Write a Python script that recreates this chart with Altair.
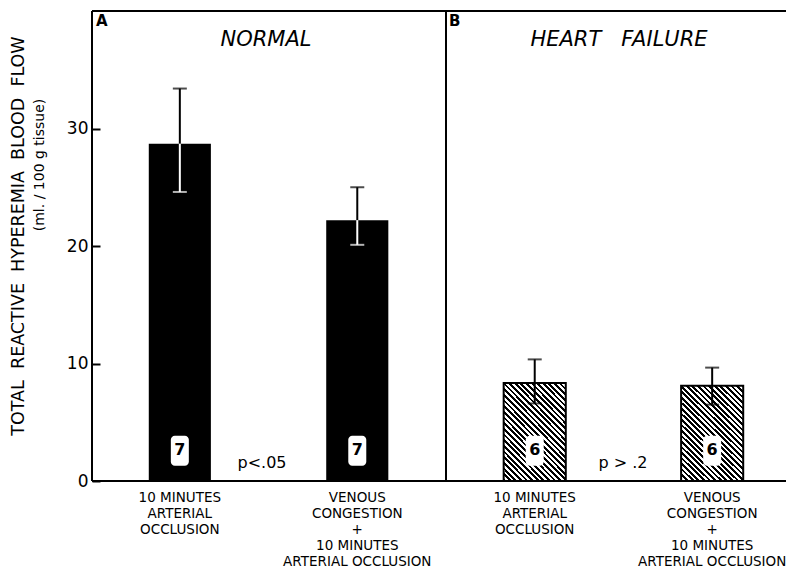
import altair as alt
import pandas as pd

# ---- data ----
keys = ["A1", "A2", "B1", "B2"]
panels = ["A", "A", "B", "B"]
means = [28.7, 22.2, 8.35, 8.1]
upper = [33.4, 25.0, 10.35, 9.65]
lower = [24.6, 20.1, 6.6, 6.5]
n_labels = ["7", "7", "6", "6"]
cond_labels = [
    "10 MINUTES\nARTERIAL\nOCCLUSION",
    "VENOUS\nCONGESTION\n+\n10 MINUTES\nARTERIAL OCCLUSION",
]
x_labels = [cond_labels[0], cond_labels[1], cond_labels[0], cond_labels[1]]
panel_letters = ["A", "B"]
panel_titles = ["NORMAL", "HEART\u00a0\u00a0\u00a0FAILURE"]
p_texts = ["p<.05", "p > .2"]
y_ticks = [0, 10, 20, 30]
y_title = ["TOTAL\u00a0\u00a0REACTIVE\u00a0\u00a0HYPEREMIA\u00a0\u00a0BLOOD\u00a0\u00a0FLOW",
           "(ml. / 100 g tissue)"]

df = pd.DataFrame({
    "key": keys, "panel": panels, "mean": means, "upper": upper,
    "lower": lower, "n": n_labels, "label": x_labels,
})

W, H = 694, 470       # visible plot area (right part is cropped like the original)
RANGE = 708           # full band range of the two panels
FONT = "DejaVu Sans"

xscale = alt.Scale(domain=keys, range=[0, RANGE], paddingInner=0.65, paddingOuter=0.32)
yscale = alt.Scale(domain=[0, 40], nice=False, zero=True)
yaxis = alt.Axis(values=y_ticks, grid=False, domain=False, ticks=True,
                 tickSize=8, tickWidth=2, tickColor="black", offset=-8,
                 labelPadding=4, labelFontSize=17, labelColor="black",
                 labelFont=FONT, title=None)


def Y(field):
    return alt.Y(field, type="quantitative", scale=yscale, axis=yaxis)


base = alt.Chart(df).encode(x=alt.X("key:N", scale=xscale, axis=None))

# hatch fill as a striped gradient (style only)
P, frac = 38, 0.5
stops = []
for k in range(P):
    a, b, c = k / P, (k + frac) / P, (k + 1) / P
    stops += [alt.GradientStop(offset=a, color="black"),
              alt.GradientStop(offset=b, color="black"),
              alt.GradientStop(offset=b, color="white"),
              alt.GradientStop(offset=c, color="white")]
hatch = alt.LinearGradient(gradient="linear", stops=stops,
                           x1=0, y1=1, x2=1, y2=1 - 96.5 / 62)

bars_a = base.transform_filter("datum.panel == 'A'").mark_bar(color="black").encode(y=Y("mean"))
bars_b = base.transform_filter("datum.panel == 'B'").mark_bar(
    fill=hatch, stroke="black", strokeWidth=2).encode(y=Y("mean"))

lowcol = alt.condition("datum.panel == 'A'", alt.value("white"), alt.value("black"))
err_up = base.mark_rule(color="black", strokeWidth=2).encode(y=Y("mean"), y2="upper:Q")
cap_up = base.mark_tick(color="black", size=14, thickness=2).encode(y=Y("upper"))
err_lo = base.mark_rule(strokeWidth=2).encode(y=Y("lower"), y2="mean:Q", color=lowcol)
cap_lo = base.mark_tick(size=14, thickness=2).encode(y=Y("lower"), color=lowcol)

boxes = base.mark_bar(color="white", width=18, cornerRadius=4).encode(
    y=alt.datum(1.3), y2=alt.datum(3.85))
nums = base.mark_text(font=FONT, fontSize=16, fontWeight="bold", color="black").encode(
    y=alt.datum(2.6), text="n:N")

xlab = base.mark_text(font=FONT, fontSize=13.5, baseline="top", align="center",
                      lineBreak="\n", lineHeight=16, color="black").encode(
    y=alt.value(H + 10), text="label:N")

one = pd.DataFrame({"d": [0]})


def frame(**enc):
    return alt.Chart(one).mark_rule(color="black", strokeWidth=2).encode(**enc)


frames = [
    frame(x=alt.value(0), x2=alt.value(RANGE), y=alt.value(0)),
    frame(x=alt.value(0), x2=alt.value(RANGE), y=alt.value(H)),
    frame(x=alt.value(0), y=alt.value(0), y2=alt.value(H)),
    frame(x=alt.value(354), y=alt.value(0), y2=alt.value(H)),
]


def txt(s, x, y, **kw):
    return alt.Chart(pd.DataFrame({"t": [s]})).mark_text(font=FONT, color="black", **kw).encode(
        x=alt.value(x), y=alt.value(y), text="t:N")


annots = [
    txt(panel_letters[0], 4, 10, fontSize=15, fontWeight="bold", align="left"),
    txt(panel_letters[1], 357, 10, fontSize=15, fontWeight="bold", align="left"),
    txt(panel_titles[0], 174, 29, fontSize=21, fontStyle="italic"),
    txt(panel_titles[1], 527, 29, fontSize=21, fontStyle="italic"),
    txt(p_texts[0], 170, 452, fontSize=16),
    txt(p_texts[1], 531, 452, fontSize=16),
    txt(y_title[0], -73, 225, fontSize=17.5, angle=270, baseline="middle"),
    txt(y_title[1], -52, 154, fontSize=14, angle=270, baseline="middle"),
]

chart = alt.layer(bars_a, bars_b, err_up, cap_up, err_lo, cap_lo, boxes, nums, xlab,
                  *frames, *annots).properties(
    width=W, height=H,
    autosize=alt.AutoSizeParams(type="none"),
    padding={"left": 84, "top": 3, "right": 0, "bottom": 88},
    background="white",
).configure_view(stroke=None)

chart.save("out.html", embed_options={"renderer": "svg", "actions": False})
